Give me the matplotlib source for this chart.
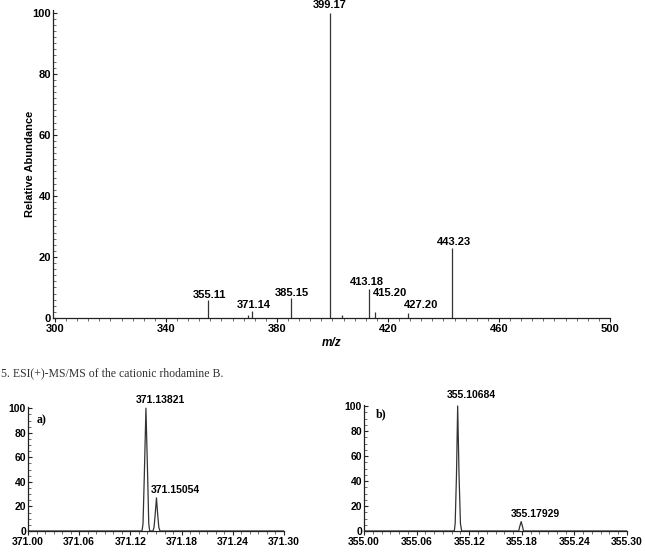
import matplotlib
matplotlib.use("Agg")
import matplotlib.pyplot as plt
from matplotlib.ticker import MultipleLocator

# ---- data ----
# full scan ESI(+)-MS/MS (centroid sticks)
ms_mz = [355.11, 369.6, 371.14, 385.15, 399.17, 403.4, 413.18, 415.20, 427.20, 443.23]
ms_int = [5.9, 1.0, 2.3, 6.5, 100.0, 1.0, 9.5, 2.0, 1.6, 22.9]
ms_labels = ["355.11", None, "371.14", "385.15", "399.17", None, "413.18", "415.20", "427.20", "443.23"]

# panel a) high resolution profile around m/z 371
a_mz = [371.00, 371.1336, 371.1348, 371.1363, 371.13821, 371.1402, 371.1415, 371.1426,
        371.1465, 371.1477, 371.1491, 371.15054, 371.1519, 371.1533, 371.1547, 371.30]
a_int = [0, 0, 6, 45, 100, 45, 6, 0,
         0, 3, 14, 27, 14, 3, 0, 0]
a_peaks = [371.13821, 371.15054]
a_peak_int = [100, 27]

# panel b) high resolution profile around m/z 355
b_mz = [355.00, 355.1030, 355.1040, 355.1055, 355.10684, 355.1084, 355.1100, 355.1114,
        355.1765, 355.1774, 355.17929, 355.1810, 355.1820, 355.30]
b_int = [0, 0, 6, 45, 100, 45, 6, 0,
         0, 3, 7.5, 3, 0, 0]
b_peaks = [355.10684, 355.17929]
b_peak_int = [100, 7.5]

# label offsets (pixels) for the peak labels
ms_offsets = [(2, 5), None, (1, 6), (1, 5), (0, 8), None, (-2, 7), (15, 19), (13, 8), (1, 6)]
a_offsets = [(14, 8), (19, 8)]
b_offsets = [(14, 11), (14, 8)]

SANS = "Liberation Sans"
SERIF = "Liberation Serif"
LINE = "#333333"

W, H = 645, 557
fig = plt.figure(figsize=(W / 100, H / 100), dpi=100)


def px_axes(left, top, right, bottom):
    return fig.add_axes([left / W, 1 - bottom / H, (right - left) / W, (bottom - top) / H])


def style(ax, fs):
    for s in ["top", "right"]:
        ax.spines[s].set_visible(False)
    for s in ["left", "bottom"]:
        ax.spines[s].set_linewidth(0.9)
        ax.spines[s].set_color("#222222")
    ax.tick_params(axis="both", which="major", length=3, width=0.8, color="#222222",
                   labelsize=fs, pad=1.5)
    ax.tick_params(axis="both", which="minor", length=1.8, width=0.6, color="#555555")
    ax.tick_params(axis="y", which="both", direction="in")
    for lab in ax.get_xticklabels() + ax.get_yticklabels():
        lab.set_fontfamily(SANS)
        lab.set_fontweight("bold")


# ---- top: full spectrum ----
ax = px_axes(53, 9.6, 610, 318)
ax.vlines(ms_mz, 0, ms_int, color=LINE, linewidth=0.9)
ax.set_xlim(299.3, 500)
ax.set_ylim(0, 101)
ax.set_xticks(range(300, 501, 40))
ax.xaxis.set_minor_locator(MultipleLocator(4))
ax.set_yticks(range(0, 101, 20))
ax.yaxis.set_minor_locator(MultipleLocator(2))
style(ax, 8)
for mz, y, lab, off in zip(ms_mz, ms_int, ms_labels, ms_offsets):
    if lab is None:
        continue
    ax.annotate(lab, (mz, y), xytext=off, textcoords="offset pixels", ha="center", va="center",
                fontsize=8, fontweight="bold", family=SANS, annotation_clip=False)
ax.set_ylabel("Relative Abundance", fontsize=8, fontweight="bold", family=SANS)
ax.yaxis.label.set_va("center")
ax.yaxis.set_label_coords(-23 / 557, 0.5)
ax.set_xlabel("m/z", fontsize=8.5, fontweight="bold", fontstyle="italic", family=SANS, labelpad=2)

fig.text(1 / W, 1 - 373 / H, "5. ESI(+)-MS/MS of the cationic rhodamine B.",
         fontsize=8.5, family=SERIF, color="#333333", ha="left", va="center")

# ---- bottom left: panel a ----
axa = px_axes(28, 407, 284, 531)
axa.plot(a_mz, a_int, color=LINE, linewidth=0.9)
axa.set_xlim(371.00, 371.30)
axa.set_ylim(0, 101)
axa.set_xticks([371.00, 371.06, 371.12, 371.18, 371.24, 371.30])
axa.set_xticklabels(["371.00", "371.06", "371.12", "371.18", "371.24", "371.30"])
axa.xaxis.set_minor_locator(MultipleLocator(0.01))
axa.set_yticks(range(0, 101, 20))
axa.yaxis.set_minor_locator(MultipleLocator(5))
style(axa, 7.5)
for mz, y, off in zip(a_peaks, a_peak_int, a_offsets):
    axa.annotate(f"{mz:.5f}", (mz, y), xytext=off, textcoords="offset pixels", ha="center",
                 va="center", fontsize=7.5, fontweight="bold", family=SANS, annotation_clip=False)
axa.text(14 / 256, 1 - 13 / 124, "a)", transform=axa.transAxes, fontsize=8.5,
         fontweight="bold", family=SERIF, ha="center", va="center")

# ---- bottom right: panel b ----
axb = px_axes(364, 405, 627, 531)
axb.plot(b_mz, b_int, color=LINE, linewidth=0.9)
axb.set_xlim(355.00, 355.30)
axb.set_ylim(0, 100.8)
axb.set_xticks([355.00, 355.06, 355.12, 355.18, 355.24, 355.30])
axb.set_xticklabels(["355.00", "355.06", "355.12", "355.18", "355.24", "355.30"])
axb.xaxis.set_minor_locator(MultipleLocator(0.01))
axb.set_yticks(range(0, 101, 20))
axb.yaxis.set_minor_locator(MultipleLocator(5))
style(axb, 7.5)
for mz, y, off in zip(b_peaks, b_peak_int, b_offsets):
    axb.annotate(f"{mz:.5f}", (mz, y), xytext=off, textcoords="offset pixels", ha="center",
                 va="center", fontsize=7.5, fontweight="bold", family=SANS, annotation_clip=False)
axb.text(17 / 263, 1 - 9 / 126, "b)", transform=axb.transAxes, fontsize=8.5,
         fontweight="bold", family=SERIF, ha="center", va="center")

fig.savefig("out.png", dpi=100)
plt.close(fig)
